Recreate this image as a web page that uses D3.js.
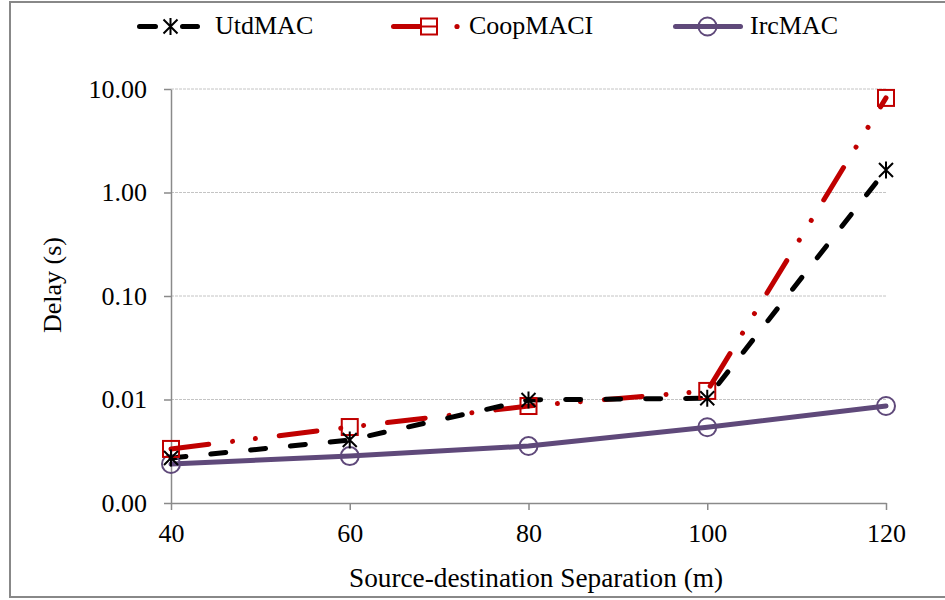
<!DOCTYPE html>
<html><head><meta charset="utf-8">
<script src="https://cdn.jsdelivr.net/npm/d3@7"></script>
<style>body{margin:0;background:#fff}svg{display:block}</style>
</head><body><svg id="c" width="945" height="600"></svg>
<script>
const xValues = [40, 60, 80, 100, 120];
const utdMAC = [0.00272, 0.00406, 0.0099, 0.0103, 1.65];
const coopMACI = [0.00333, 0.00542, 0.00865, 0.0121, 8.2];
const ircMAC = [0.00238, 0.00284, 0.00355, 0.00539, 0.00865];
const yTicks = [0.001, 0.01, 0.1, 1, 10];
const yTickLabels = ["0.00", "0.01", "0.10", "1.00", "10.00"];
const seriesNames = ["UtdMAC", "CoopMACI", "IrcMAC"];

const svg = d3.select("#c");

// pick an installed serif font
const probeText = "Source-destination Separation (m)";
function measure(fam) {
  const t = svg.append("text").attr("font-size", 26).attr("font-family", fam).text(probeText);
  const w = t.node().getComputedTextLength();
  t.remove();
  return w;
}
const candidates = ["Liberation Serif", "Tinos", "Times New Roman", "Nimbus Roman", "FreeSerif", "Noto Serif", "DejaVu Serif"];
const base = measure("monospace");
let FONT = "serif";
for (const c of candidates) {
  if (Math.abs(measure(`'${c}', monospace`) - base) > 0.5) { FONT = `'${c}'`; break; }
}
// Times-metric width of the probe at 26px is ~356.7
const ratio = 356.7 / measure(FONT);
const timesLike = Math.abs(ratio - 1) < 0.02;
const FS = timesLike ? 26 : 24;
const FS_TITLE = timesLike ? 27.3 : 25.2;
const rf = 26 / FS;
svg.style("font-family", FONT);
function fit(sel) {
  sel.each(function() {
    const w = this.getComputedTextLength();
    if (!timesLike) d3.select(this).attr("textLength", w * ratio * rf).attr("lengthAdjust", "spacingAndGlyphs");
  });
}

const x = d3.scaleLinear().domain([40, 120]).range([171, 886]);
const y = d3.scaleLog().domain([0.001, 10]).range([503, 89]);

// outer border
svg.append("rect").attr("x", 10).attr("y", 2).attr("width", 945).attr("height", 595)
  .attr("fill", "none").attr("stroke", "#888").attr("stroke-width", 2);

// gridlines
svg.append("g").selectAll("line").data(yTicks.slice(1)).join("line")
  .attr("x1", 171).attr("x2", 886).attr("y1", d => y(d)).attr("y2", d => y(d))
  .attr("stroke", "#c4c4c4").attr("stroke-width", 1).attr("stroke-dasharray", "3,1");

// y axis
const yAxis = d3.axisLeft(y).tickValues(yTicks).tickFormat((d, i) => yTickLabels[i]).tickSize(7).tickSizeOuter(0);
const gy = svg.append("g").attr("transform", "translate(171,0)").call(yAxis);
gy.attr("font-family", FONT);
gy.select(".domain").attr("stroke", "#8a8a8a").attr("stroke-width", 1.5);
gy.selectAll(".tick line").attr("stroke", "#8a8a8a").attr("stroke-width", 1.5);
gy.selectAll(".tick text").attr("font-size", FS).attr("fill", "#000").attr("x", -24).call(fit);

// x axis
const xAxis = d3.axisBottom(x).tickValues(xValues).tickSize(7).tickSizeOuter(0);
const gx = svg.append("g").attr("transform", "translate(0,503)").call(xAxis);
gx.attr("font-family", FONT);
gx.select(".domain").attr("stroke", "#8a8a8a").attr("stroke-width", 1.5);
gx.selectAll(".tick line").attr("stroke", "#8a8a8a").attr("stroke-width", 1.5);
gx.selectAll(".tick text").attr("font-size", FS).attr("fill", "#000")
  .attr("dy", null).attr("y", 39).call(fit);

// axis titles
svg.append("text").attr("x", 536).attr("y", 587).attr("text-anchor", "middle")
  .attr("font-size", FS_TITLE).text("Source-destination Separation (m)")
  .each(function() { d3.select(this).attr("textLength", 374).attr("lengthAdjust", "spacingAndGlyphs"); });
svg.append("text").attr("transform", "translate(61,285) rotate(-90)").attr("text-anchor", "middle")
  .attr("font-size", FS).text("Delay (s)").call(fit);

const line = d3.line().x((d, i) => x(xValues[i])).y(d => y(d)).curve(d3.curveLinear);

const styles = [
  {data: utdMAC, color: "#000000", dash: "15,25", width: 5, marker: "star"},
  {data: coopMACI, color: "#C00000", dash: "38,24,0.01,23,0.01,24", width: 5, marker: "square"},
  {data: ircMAC, color: "#5F497A", dash: null, width: 5, marker: "circle"}
];

function drawMarker(g, type, cx, cy, color) {
  if (type === "star") {
    const s = 7;
    const p = `M${cx-s},${cy-s}L${cx+s},${cy+s}M${cx-s},${cy+s}L${cx+s},${cy-s}M${cx},${cy-s-1.5}L${cx},${cy+s+1.5}`;
    g.append("path").attr("d", p).attr("stroke", color).attr("stroke-width", 2).attr("fill", "none");
  } else if (type === "square") {
    g.append("rect").attr("x", cx-8).attr("y", cy-8).attr("width", 16).attr("height", 16)
      .attr("fill", "none").attr("stroke", color).attr("stroke-width", 2);
  } else {
    g.append("circle").attr("cx", cx).attr("cy", cy).attr("r", 9)
      .attr("fill", "none").attr("stroke", color).attr("stroke-width", 2);
  }
}

styles.slice().reverse().forEach(s => {
  svg.append("path").datum(s.data).attr("d", line).attr("fill", "none")
    .attr("stroke", s.color).attr("stroke-width", s.width)
    .attr("stroke-linecap", "round").attr("stroke-linejoin", "round")
    .attr("stroke-dasharray", s.dash);
});
styles.slice().reverse().forEach(s => {
  const g = svg.append("g");
  s.data.forEach((v, i) => drawMarker(g, s.marker, x(xValues[i]), y(v), s.color));
});

// legend
const legend = [
  {x1: 139.5, x2: 197.5, m: 170.5, tx: 215, dash: "16,27,15,100"},
  {x1: 393.5, x2: 435, m: 429, tx: 469, dash: null},
  {x1: 675.5, x2: 740.5, m: 707.5, tx: 750, dash: null}
];
const lg = svg.append("g");
legend.forEach((l, i) => {
  const s = styles[i];
  const ly = 26.5;
  lg.append("line").attr("x1", l.x1).attr("x2", l.x2).attr("y1", ly).attr("y2", ly)
    .attr("stroke", s.color).attr("stroke-width", 5).attr("stroke-linecap", "round")
    .attr("stroke-dasharray", l.dash);
  if (i === 1) lg.append("circle").attr("cx", 457).attr("cy", ly).attr("r", 2.6).attr("fill", s.color);
  if (i === 1) lg.append("rect").attr("x", l.m-8).attr("y", ly-8).attr("width", 16).attr("height", 16).attr("fill", "#fff");
  drawMarker(lg, s.marker, l.m, ly, s.color);
  if (i === 1) lg.append("line").attr("x1", l.m-8).attr("x2", l.m+8).attr("y1", ly).attr("y2", ly)
    .attr("stroke", s.color).attr("stroke-width", 2);
  if (i === 2) {
    lg.append("line").attr("x1", l.m-9).attr("x2", l.m+9).attr("y1", ly).attr("y2", ly)
      .attr("stroke", s.color).attr("stroke-width", 5);
  }
  lg.append("text").attr("x", l.tx).attr("y", 34.3).attr("font-size", FS).text(seriesNames[i]).call(fit);
});
</script></body></html>
